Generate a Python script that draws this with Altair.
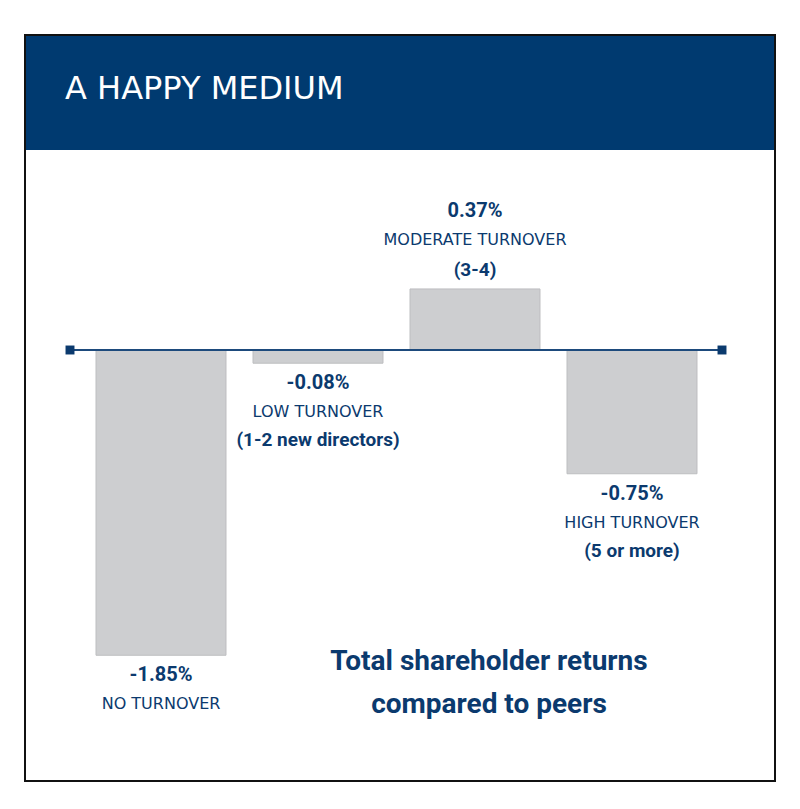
import altair as alt
import pandas as pd

categories = ["NO TURNOVER", "LOW TURNOVER", "MODERATE TURNOVER", "HIGH TURNOVER"]
values = [-1.85, -0.08, 0.37, -0.75]
value_labels = ["-1.85%", "-0.08%", "0.37%", "-0.75%"]
sub_labels = ["", "(1-2 new directors)", "(3-4)", "(5 or more)"]

title_text = "A HAPPY MEDIUM"
footer_lines = ["Total shareholder returns", "compared to peers"]

NAVY = "#0b3a6e"
HEADER = "#003a70"
BAR = "#cdced0"
BOLD_FONT = "Roboto"
CAPS_FONT = "DejaVu Sans"

df = pd.DataFrame({
    "cat": categories,
    "value": values,
    "base": [0.0] * len(values),
    "vlabel": value_labels,
    "sub": sub_labels,
})

W, H = 784, 790
k = 165.0  # px per percentage point
zero_y = 342.0
ydom = [-(H - zero_y) / k, zero_y / k]

xs = alt.X("cat:N", sort=categories, axis=None,
           scale=alt.Scale(range=[74.5, 702.5], paddingInner=0.172, paddingOuter=0.086))
ys = alt.Y("value:Q", axis=None, scale=alt.Scale(domain=ydom, nice=False, zero=False))

one = pd.DataFrame({"a": [0]})

border = alt.Chart(one).mark_rect(fill="white", stroke="#111111", strokeWidth=2).encode(
    x=alt.value(17), x2=alt.value(767), y=alt.value(27), y2=alt.value(773))
header = alt.Chart(one).mark_rect(fill=HEADER).encode(
    x=alt.value(18), x2=alt.value(766), y=alt.value(28), y2=alt.value(142))
title = alt.Chart(pd.DataFrame({"t": [title_text]})).mark_text(
    font="DejaVu Sans", fontSize=32, color="white", align="left", baseline="middle").encode(
    x=alt.value(57), y=alt.value(81), text="t:N")

bars = alt.Chart(df).mark_bar(color=BAR, stroke="#bdbec0", strokeWidth=1).encode(
    x=xs, y=ys, y2="base:Q")

zero_df = pd.DataFrame({"value": [0.0]})
zero_line = alt.Chart(zero_df).mark_rule(color="#1d4a7c", strokeWidth=2).encode(
    x=alt.value(62), x2=alt.value(714), y=ys)
end_l = alt.Chart(zero_df).mark_square(size=80, color=NAVY, opacity=1).encode(
    x=alt.value(62), y=ys)
end_r = alt.Chart(zero_df).mark_square(size=80, color=NAVY, opacity=1).encode(
    x=alt.value(714), y=ys)

neg = alt.Chart(df).transform_filter("datum.value < 0")
pos = alt.Chart(df).transform_filter("datum.value >= 0")

def label_layers(base, d_val, d_cat, d_sub):
    v = base.mark_text(font=BOLD_FONT, fontWeight="bold", fontSize=20, color=NAVY,
                       baseline="middle", dy=d_val).encode(x=xs, y=ys, text="vlabel:N")
    c = base.mark_text(font=CAPS_FONT, fontSize=16, color=NAVY,
                       baseline="middle", dy=d_cat).encode(x=xs, y=ys, text="cat:N")
    s = base.mark_text(font=BOLD_FONT, fontWeight="bold", fontSize=19, color=NAVY,
                       baseline="middle", dy=d_sub).encode(x=xs, y=ys, text="sub:N")
    return [v, c, s]

labels = label_layers(neg, 20, 49, 77) + label_layers(pos, -78, -49, -19)

foot1 = alt.Chart(pd.DataFrame({"t": [footer_lines[0]]})).mark_text(
    font=BOLD_FONT, fontWeight="bold", fontSize=28, color=NAVY, baseline="middle").encode(
    x=alt.value(481), y=alt.value(654), text="t:N")
foot2 = alt.Chart(pd.DataFrame({"t": [footer_lines[1]]})).mark_text(
    font=BOLD_FONT, fontWeight="bold", fontSize=28, color=NAVY, baseline="middle").encode(
    x=alt.value(481), y=alt.value(697), text="t:N")

chart = alt.layer(border, header, title, bars, zero_line, end_l, end_r, *labels, foot1, foot2).properties(
    width=W, height=H, padding=0, autosize="none", background="white"
).configure_view(stroke=None)

chart.save("out.html", embed_options={"renderer": "svg", "actions": False})
